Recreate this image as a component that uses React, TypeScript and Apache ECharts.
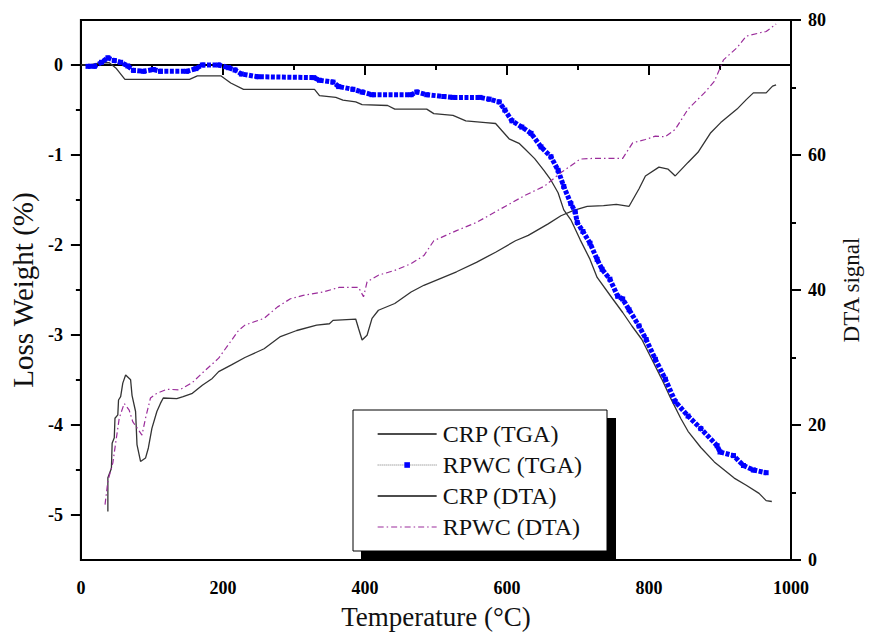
import React, { useEffect, useRef } from "react";
import * as echarts from "echarts";

// ---- Data ----
const crpTgaTemp = [0, 12, 29, 40, 50, 62, 153, 164, 197, 211, 229, 329, 336, 359, 369, 387, 396, 432, 442, 487, 497, 524, 542, 570, 584, 593, 603, 617, 625, 639, 652, 662, 672, 680, 690, 703, 717, 727, 749, 763, 776, 790, 804, 818, 831, 845, 855, 873, 892, 906, 920, 937, 955, 965, 973];
const crpTgaLoss = [0, 0, 0.025, 0.025, -0.04, -0.16, -0.16, -0.12, -0.12, -0.2, -0.27, -0.27, -0.34, -0.36, -0.39, -0.41, -0.44, -0.45, -0.49, -0.49, -0.54, -0.56, -0.62, -0.64, -0.65, -0.73, -0.82, -0.87, -0.93, -1.04, -1.17, -1.28, -1.42, -1.61, -1.72, -1.94, -2.16, -2.36, -2.6, -2.75, -2.9, -3.05, -3.27, -3.49, -3.71, -3.93, -4.07, -4.25, -4.41, -4.5, -4.59, -4.67, -4.76, -4.84, -4.85];

const rpwcTgaTemp = [10, 19, 29, 38, 47, 56, 66, 74, 88, 102, 112, 149, 162, 171, 194, 208, 217, 226, 249, 328, 336, 355, 363, 383, 396, 410, 465, 473, 487, 511, 524, 562, 575, 589, 597, 607, 621, 634, 648, 662, 672, 680, 690, 696, 699, 707, 717, 727, 734, 745, 756, 763, 772, 786, 796, 809, 823, 837, 855, 873, 896, 900, 919, 933, 947, 965];
const rpwcTgaLoss = [-0.015, -0.015, 0.03, 0.08, 0.05, 0.03, -0.01, -0.06, -0.07, -0.05, -0.07, -0.07, -0.04, 0, 0, -0.03, -0.055, -0.1, -0.13, -0.14, -0.17, -0.19, -0.24, -0.27, -0.3, -0.33, -0.33, -0.3, -0.33, -0.35, -0.36, -0.36, -0.38, -0.41, -0.5, -0.62, -0.69, -0.76, -0.91, -1.02, -1.17, -1.35, -1.54, -1.63, -1.75, -1.85, -1.98, -2.16, -2.27, -2.38, -2.57, -2.6, -2.72, -2.9, -3.05, -3.27, -3.49, -3.74, -3.9, -4.04, -4.23, -4.3, -4.34, -4.45, -4.5, -4.53];

const crpDtaTemp = [38, 38, 43, 44, 47, 48, 52, 53, 56, 59, 63, 70, 72, 77, 79, 84, 91, 95, 100, 107, 112, 116, 135, 144, 157, 171, 185, 194, 212, 231, 258, 281, 304, 332, 350, 355, 387, 391, 396, 403, 410, 419, 442, 465, 483, 506, 529, 557, 584, 612, 630, 658, 676, 694, 713, 736, 754, 772, 786, 795, 814, 827, 837, 846, 855, 869, 887, 901, 924, 937, 947, 965, 974, 979];
const crpDtaSignal = [7.2, 12.2, 13.6, 17.3, 18.1, 21, 21.5, 23.7, 24.2, 26.2, 27.4, 26.7, 24.4, 22, 17.1, 14.6, 15.1, 16.6, 19.5, 22, 23.2, 24, 23.9, 24.2, 24.7, 25.9, 26.9, 27.9, 28.9, 30, 31.3, 33.1, 34, 34.8, 35, 35.5, 35.7, 34.3, 32.6, 33.3, 35.8, 37, 38, 39.7, 40.7, 41.7, 42.7, 44.1, 45.6, 47.3, 48.1, 49.8, 51, 51.8, 52.4, 52.5, 52.7, 52.4, 55, 56.9, 58.2, 57.9, 56.9, 57.9, 58.9, 60.4, 63.3, 64.8, 66.8, 68.2, 69.2, 69.2, 70.2, 70.4];

const rpwcDtaTemp = [34, 38, 45, 50, 54, 61, 68, 73, 86, 91, 98, 107, 121, 139, 157, 171, 194, 222, 231, 258, 277, 295, 313, 341, 364, 391, 398, 403, 419, 442, 465, 483, 497, 529, 557, 584, 603, 625, 653, 676, 690, 703, 722, 763, 777, 795, 809, 823, 837, 855, 878, 892, 905, 924, 937, 956, 965, 979];
const rpwcDtaSignal = [8.2, 11.7, 14.4, 18.1, 21, 23.2, 22.2, 20.5, 18.5, 21, 24, 24.7, 25.3, 25.2, 26.3, 27.7, 29.9, 34, 34.8, 35.8, 37.5, 38.7, 39.2, 39.7, 40.4, 40.4, 39, 41.2, 42.2, 42.9, 43.9, 45.1, 47.3, 48.8, 50, 51.6, 52.7, 54, 55.4, 57.4, 58.4, 59.4, 59.5, 59.5, 61.8, 62.3, 62.8, 62.7, 63.8, 66.8, 69.2, 70.9, 74.1, 75.9, 77.6, 78.1, 78.3, 79.4];

const lossMajorTicks = [-5, -4, -3, -2, -1, 0];
const lossMinorTicks = [-4.5, -3.5, -2.5, -1.5, -0.5];

const zip = (a: number[], b: number[]) => a.map((v, i) => [v, b[i]]);

const SERIF = "'Liberation Serif', 'Times New Roman', serif";

export default function App() {
  const ref = useRef<HTMLDivElement>(null);

  useEffect(() => {
    document.body.style.margin = "0";
    if (!ref.current) return;
    const chart = echarts.init(ref.current, undefined, { renderer: "svg" });

    const tickLabel = {
      fontFamily: SERIF,
      fontWeight: 700,
      fontSize: 18,
      color: "#000",
      formatter: (v: number) => String(v),
    };
    const axisLine = { show: true, lineStyle: { color: "#000", width: 2 } };

    chart.setOption({
      animation: false,
      backgroundColor: "#fff",
      textStyle: { fontFamily: SERIF },
      grid: { left: 79, right: 65, top: 20, bottom: 73, show: true, borderColor: "#000", borderWidth: 2, backgroundColor: "transparent" },
      xAxis: {
        type: "value",
        min: 0,
        max: 1000,
        interval: 200,
        name: "Temperature (°C)",
        nameLocation: "middle",
        nameGap: 43,
        nameTextStyle: { fontFamily: SERIF, fontSize: 27, color: "#111" },
        axisLine,
        axisTick: { show: true, inside: false, length: 10, lineStyle: { color: "#000", width: 2 } },
        minorTick: { show: true, splitNumber: 2, length: 5, lineStyle: { color: "#000", width: 2 } },
        axisLabel: { ...tickLabel, margin: 19 },
        splitLine: { show: false },
      },
      yAxis: [
        {
          type: "value",
          position: "left",
          min: -5.5,
          max: 0.5,
          name: "Loss Weight (%)",
          nameLocation: "middle",
          nameRotate: 90,
          nameGap: 41,
          nameTextStyle: { fontFamily: SERIF, fontSize: 29, color: "#111" },
          axisLine,
          axisTick: { show: true, inside: false, length: 10, customValues: lossMajorTicks, lineStyle: { color: "#000", width: 2 } },
          axisLabel: { ...tickLabel, margin: 18, customValues: lossMajorTicks },
          splitLine: { show: false },
        },
        {
          type: "value",
          position: "right",
          min: 0,
          max: 80,
          interval: 20,
          name: "DTA signal",
          nameLocation: "middle",
          nameRotate: 90,
          nameGap: 49,
          nameTextStyle: { fontFamily: SERIF, fontSize: 23, color: "#111" },
          axisLine,
          axisTick: { show: true, inside: false, length: 10, lineStyle: { color: "#000", width: 2 } },
          minorTick: { show: true, splitNumber: 2, length: 5, lineStyle: { color: "#000", width: 2 } },
          axisLabel: { ...tickLabel, margin: 17 },
          splitLine: { show: false },
        },
        {
          type: "value",
          position: "left",
          min: -5.5,
          max: 0.5,
          axisLine: { show: false },
          axisTick: { show: true, inside: false, length: 5, customValues: lossMinorTicks, lineStyle: { color: "#000", width: 2 } },
          axisLabel: { show: false },
          splitLine: { show: false },
        },
      ],
      legend: {
        orient: "vertical",
        left: 372,
        top: 417,
        itemWidth: 59,
        itemHeight: 7,
        itemGap: 7,
        textStyle: { fontFamily: SERIF, fontSize: 24, color: "#111", padding: [0, 0, 0, 1] },
        data: [
          { name: "CRP (TGA)", itemStyle: { opacity: 0 }, lineStyle: { color: "#111", width: 1.3 } },
          { name: "RPWC (TGA)", lineStyle: { color: "#777", width: 1, type: "dotted" }, itemStyle: { color: "#0000ff" } },
          { name: "CRP (DTA)", itemStyle: { opacity: 0 }, lineStyle: { color: "#111", width: 1.3 } },
          { name: "RPWC (DTA)", itemStyle: { opacity: 0 }, lineStyle: { color: "#9b2d9b", width: 1.2, type: [6, 3, 1.5, 3] } },
        ],
      },
      graphic: [
        { type: "rect", z: 0, shape: { x: 361, y: 418, width: 255, height: 142 }, style: { fill: "#000" } },
        { type: "rect", z: 1, shape: { x: 353, y: 410, width: 254, height: 141 }, style: { fill: "#fff", stroke: "#000", lineWidth: 1 } },
      ],
      series: [
        {
          name: "CRP (TGA)",
          type: "line",
          yAxisIndex: 0,
          data: zip(crpTgaTemp, crpTgaLoss),
          symbol: "none",
          lineStyle: { color: "#333", width: 1.3 },
          itemStyle: { color: "#333" },
        },
        {
          name: "RPWC (TGA)",
          type: "line",
          yAxisIndex: 0,
          data: zip(rpwcTgaTemp, rpwcTgaLoss),
          symbol: "rect",
          symbolSize: 5,
          lineStyle: { color: "#0000ff", width: 5, type: [4, 1.5] },
          itemStyle: { color: "#0000ff" },
        },
        {
          name: "CRP (DTA)",
          type: "line",
          yAxisIndex: 1,
          data: zip(crpDtaTemp, crpDtaSignal),
          symbol: "none",
          lineStyle: { color: "#333", width: 1.3 },
          itemStyle: { color: "#333" },
        },
        {
          name: "RPWC (DTA)",
          type: "line",
          yAxisIndex: 1,
          data: zip(rpwcDtaTemp, rpwcDtaSignal),
          symbol: "none",
          lineStyle: { color: "#9b2d9b", width: 1.2, type: [6, 3, 1.5, 3] },
          itemStyle: { color: "#9b2d9b" },
        },
      ],
    });

    return () => chart.dispose();
  }, []);

  return <div ref={ref} style={{ width: 871, height: 635 }} />;
}
